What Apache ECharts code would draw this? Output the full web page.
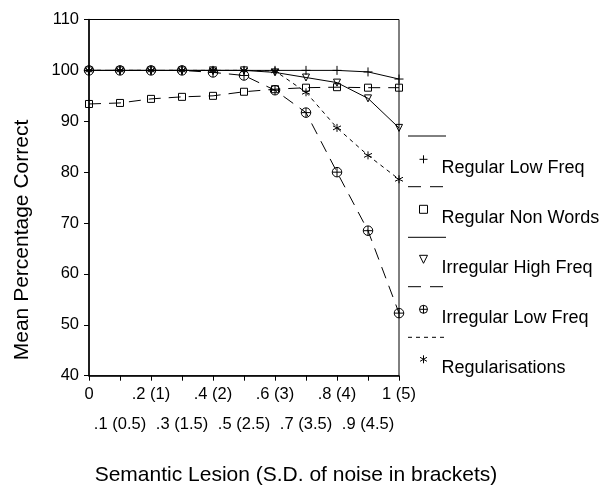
<!DOCTYPE html>
<html>
<head>
<meta charset="utf-8">
<script src="https://cdn.jsdelivr.net/npm/echarts@6/dist/echarts.min.js"></script>
<style>
html,body{margin:0;padding:0;background:#fff;}
#chart{width:599px;height:486px;}
</style>
</head>
<body>
<div id="chart"></div>
<script>
// ---- data ----
var xValues = [0, 0.1, 0.2, 0.3, 0.4, 0.5, 0.6, 0.7, 0.8, 0.9, 1.0];
var tickLabels = ['0', '.1 (0.5)', '.2 (1)', '.3 (1.5)', '.4 (2)', '.5 (2.5)', '.6 (3)', '.7 (3.5)', '.8 (4)', '.9 (4.5)', '1 (5)'];
var seriesNames = ['Regular Low Freq', 'Regular Non Words', 'Irregular High Freq', 'Irregular Low Freq', 'Regularisations'];
var regularLowFreq   = [100, 100, 100, 100, 100, 100, 100, 100, 100, 99.7, 98.3];
var regularNonWords  = [93.4, 93.6, 94.4, 94.8, 95.0, 95.8, 96.3, 96.6, 96.7, 96.6, 96.6];
var irregularHighFreq= [100, 100, 100, 100, 100, 100, 99.6, 98.6, 97.6, 94.5, 88.7];
var irregularLowFreq = [100, 100, 100, 100, 99.6, 99.0, 96.1, 91.7, 80.0, 68.5, 52.3];
var regularisations  = [100, 100, 100, 100, 100, 100, 99.9, 95.7, 88.7, 83.3, 78.6];
var yTitle = 'Mean Percentage Correct';
var xTitle = 'Semantic Lesion (S.D. of noise in brackets)';

// ---- styles ----
var FONT = '"Liberation Sans", Arial, sans-serif';
var SYM = {
  plus: 'path://M5,0L5,10M0,5L10,5',
  square: 'path://M0,0L10,0L10,10L0,10Z',
  triDown: 'path://M0,0L10,0L5,10Z',
  circlePlus: 'path://M10,5A5,5,0,1,1,0,5A5,5,0,1,1,10,5ZM5,0L5,10M0,5L10,5',
  star: 'path://M5,0L5,10M0.7,2.5L9.3,7.5M0.7,7.5L9.3,2.5'
};
var seriesStyle = [
  {data: regularLowFreq, symbol: SYM.plus, size: 9, dash: 'solid'},
  {data: regularNonWords, symbol: SYM.square, size: 7, dash: [12, 8]},
  {data: irregularHighFreq, symbol: SYM.triDown, size: 7, dash: 'solid'},
  {data: irregularLowFreq, symbol: SYM.circlePlus, size: 9.5, dash: [12, 8]},
  {data: regularisations, symbol: SYM.star, size: 8, dash: [4, 4]}
];
var legendLineY = [136, 186.7, 237.3, 286.7, 337.3];

function pairs(arr) { return xValues.map(function (x, i) { return [x, arr[i]]; }); }

var series = seriesStyle.map(function (s, i) {
  return {
    name: seriesNames[i],
    type: 'line',
    data: pairs(s.data),
    symbol: s.symbol,
    symbolSize: s.size,
    showAllSymbol: true,
    itemStyle: {color: 'rgba(0,0,0,0)', borderColor: '#000', borderWidth: 1},
    lineStyle: {color: '#000', width: 1, type: s.dash},
    emphasis: {disabled: true},
    animation: false
  };
});

var graphics = [];
seriesStyle.forEach(function (s, i) {
  graphics.push({
    type: 'line',
    shape: {x1: 408, y1: legendLineY[i], x2: 446, y2: legendLineY[i]},
    style: {stroke: '#000', lineWidth: 1, lineDash: s.dash === 'solid' ? null : (i === 4 ? [4, 4] : [13, 9])}
  });
});
graphics.push({
  type: 'text', x: 22, y: 240, rotation: Math.PI / 2,
  style: {text: yTitle, font: '21px ' + FONT, fill: '#000', textAlign: 'center', textVerticalAlign: 'middle'}
});
graphics.push({
  type: 'text', x: 296, y: 475,
  style: {text: xTitle, font: '21px ' + FONT, fill: '#000', textAlign: 'center', textVerticalAlign: 'middle'}
});

var chart = echarts.init(document.getElementById('chart'), null, {renderer: 'canvas'});
chart.setOption({
  animation: false,
  backgroundColor: '#fff',
  textStyle: {fontFamily: FONT},
  grid: {left: 89, right: 200, top: 19.5, bottom: 110.3, show: true, borderColor: '#000', borderWidth: 1, backgroundColor: 'transparent'},
  xAxis: [{
    type: 'value', min: 0, max: 1, interval: 0.1, position: 'bottom',
    axisLine: {show: true, onZero: false, lineStyle: {color: '#000', width: 1.5}},
    axisTick: {show: true, inside: false, length: 5, lineStyle: {color: '#000', width: 1}},
    splitLine: {show: false},
    axisLabel: {
      margin: 10, color: '#000', fontSize: 16.5, fontFamily: FONT,
      formatter: function (v) { var k = Math.round(v * 10); return k % 2 === 0 ? tickLabels[k] : ''; }
    }
  }, {
    type: 'value', min: 0, max: 1, interval: 0.1, position: 'bottom', offset: 30, gridIndex: 0,
    axisLine: {show: false}, axisTick: {show: false}, splitLine: {show: false},
    axisLabel: {
      margin: 10, color: '#000', fontSize: 16.5, fontFamily: FONT,
      formatter: function (v) { var k = Math.round(v * 10); return k % 2 === 1 ? tickLabels[k] : ''; }
    }
  }],
  yAxis: {
    type: 'value', min: 40, max: 110, interval: 10,
    axisLine: {show: true, lineStyle: {color: '#000', width: 1.5}},
    axisTick: {show: true, inside: false, length: 5, lineStyle: {color: '#000', width: 1}},
    splitLine: {show: false},
    axisLabel: {margin: 10, color: '#000', fontSize: 16.5, fontFamily: FONT}
  },
  legend: {
    orient: 'vertical', left: 419, top: 141.3, padding: 0, itemGap: 14,
    itemWidth: 8, itemHeight: 8, selectedMode: false,
    data: seriesNames.map(function (n, i) { return {name: n, icon: seriesStyle[i].symbol}; }),
    itemStyle: {color: 'rgba(0,0,0,0)', borderColor: '#000', borderWidth: 1},
    lineStyle: {width: 0},
    formatter: function (name) { return '\n' + name; },
    textStyle: {color: '#000', fontSize: 18, fontFamily: FONT, lineHeight: 18, padding: [0, 0, 0, 9]}
  },
  graphic: graphics,
  series: series
});
</script>
</body>
</html>
